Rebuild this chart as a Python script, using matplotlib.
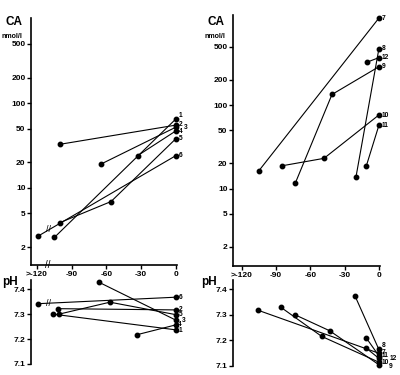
import numpy as np
import matplotlib
matplotlib.use("Agg")
import matplotlib.pyplot as plt
import matplotlib.transforms as mtransforms

plt.rcParams['font.family'] = ['Liberation Sans Narrow', 'Liberation Sans', 'DejaVu Sans']
plt.rcParams['font.weight'] = 'bold'

# patients 1-6 (left panels); first time point of patient 6 is ">-120"
left_ids = ["1", "2", "3", "4", "5", "6"]
left_ca_t = [[-105, 0], [-100, 0], [-65, 0], [-33, 0], [-100, -56, 0], [-119, 0]]
left_ca = [[2.6, 65], [32.7, 55], [19, 52], [24, 47], [3.9, 6.9, 38], [2.7, 24]]
left_ph_t = [[-106, 0], [-102, 0], [-66, 0], [-34, 0], [-101, -57, 0], [-119, 0]]
left_ph = [[7.30, 7.237], [7.322, 7.317], [7.427, 7.276], [7.217, 7.257],
           [7.30, 7.348, 7.298], [7.342, 7.368]]

# patients 7-12 (right panels)
right_ids = ["7", "8", "9", "10", "11", "12"]
right_ca_t = [[-105, 0], [-20, 0], [-73, -41, 0], [-85, -48, 0], [-11, 0], [-10, 0]]
right_ca = [[16.3, 1100], [13.8, 470], [11.7, 134, 288], [18.7, 23, 76], [18.6, 57], [328, 370]]
right_ph_t = [[-106, 0], [-21, 0], [-73, -43, 0], [-86, -50, 0], [-11, 0], [-11, 0]]
right_ph = [[7.319, 7.15], [7.376, 7.165], [7.30, 7.238, 7.105], [7.331, 7.216, 7.115],
            [7.21, 7.14], [7.17, 7.13]]

x_ticks = [-120, -90, -60, -30, 0]
x_ticklabels = [">-120", "-90", "-60", "-30", "0"]
ca_ticks = [2, 5, 10, 20, 50, 100, 200, 500]
ph_ticks = [7.1, 7.2, 7.3, 7.4]

# label offsets (points) for the numbers at the end of each line
left_ca_off = [(2, 2.5), (2, 0.5), (5.5, 0), (2, -0.5), (2, 0), (2, 0)]
left_ph_off = [(2, -0.5), (2, 0.5), (4.5, 0), (1.5, 0), (2, 0), (2, 0)]
right_ca_off = [(2, 0), (2, 0), (2, 0), (2, 0), (2, 0), (2, 0)]
right_ph_off = [(2, 0.5), (2, 2.5), (7, -1.5), (2, 0), (2, 0), (7.5, 0)]

W, H = 400, 375
fig = plt.figure(figsize=(4, 3.75), dpi=100)


def rect(l, r, t, b):
    return [l / W, (H - b) / H, (r - l) / W, (b - t) / H]


def style(ax, bottom):
    for s in ["top", "right"]:
        ax.spines[s].set_visible(False)
    ax.spines["bottom"].set_visible(bottom)
    ax.spines["left"].set_linewidth(1.2)
    ax.spines["bottom"].set_linewidth(1.2)
    ax.tick_params(axis="both", length=3, width=1, labelsize=6, pad=1)
    ax.patch.set_alpha(0)


def draw(ax, ts, vs, ids, offs):
    for t, v, name, off in zip(ts, vs, ids, offs):
        ax.plot(t, v, "-", color="black", lw=0.8, marker="o", ms=3.2, clip_on=False)
        ax.annotate(name, (t[-1], v[-1]), xytext=off, textcoords="offset points",
                    fontsize=4.8, va="center", ha="left", annotation_clip=False)


def ca_axes(r, xlim, ylim):
    ax = fig.add_axes(r)
    ax.set_yscale("log")
    ax.set_xlim(*xlim)
    ax.set_ylim(*ylim)
    ax.set_yticks(ca_ticks)
    ax.set_yticklabels([str(v) for v in ca_ticks])
    ax.minorticks_off()
    ax.set_xticks(x_ticks)
    ax.set_xticklabels(x_ticklabels)
    style(ax, True)
    return ax


def ph_axes(r, xlim):
    ax = fig.add_axes(r)
    ax.set_xlim(*xlim)
    ax.set_ylim(7.1, 7.437)
    ax.set_yticks(ph_ticks)
    ax.set_yticklabels([f"{v:.1f}" for v in ph_ticks])
    ax.set_xticks([])
    style(ax, False)
    return ax


# left
ax1 = ca_axes(rect(31, 177, 18, 265), (-125.2, 1), (1.23, 1010))
draw(ax1, left_ca_t, left_ca, left_ids, left_ca_off)
ax2 = ph_axes(rect(31, 177, 280, 364), (-125.2, 1))
draw(ax2, left_ph_t, left_ph, left_ids, left_ph_off)

# right
ax3 = ca_axes(rect(233, 380, 15, 266), (-127.6, 1), (1.18, 1200))
draw(ax3, right_ca_t, right_ca, right_ids, right_ca_off)
ax4 = ph_axes(rect(233, 380, 280, 366), (-127.6, 1))
draw(ax4, right_ph_t, right_ph, right_ids, right_ph_off)

# axis break marks
brk = -110
tr = mtransforms.blended_transform_factory(ax1.transData, ax1.transAxes)
ax1.text(brk - 1, 0.0, "//", transform=tr, fontsize=7, ha="center", va="center",
         fontweight="normal")
t6, v6 = left_ca_t[5], left_ca[5]
yb = np.exp(np.interp(brk, t6, np.log(v6)))
ax1.text(brk, yb, "//", fontsize=6.5, ha="center", va="center", fontweight="normal")
yb = np.interp(brk, left_ph_t[5], left_ph[5])
ax2.text(brk, yb, "//", fontsize=6.5, ha="center", va="center", fontweight="normal")

# panel titles
for x0 in (5, 208):
    fig.text(x0 / W, 1 - 25 / H, "CA", fontsize=8.5, ha="left", va="baseline")
    fig.text((x0 - 3) / W, 1 - 38 / H, "nmol/l", fontsize=5, ha="left", va="baseline")
fig.text(2 / W, 1 - 285 / H, "pH", fontsize=8.5, ha="left", va="baseline")
fig.text(201 / W, 1 - 285 / H, "pH", fontsize=8.5, ha="left", va="baseline")

fig.savefig("out.png", dpi=100)
